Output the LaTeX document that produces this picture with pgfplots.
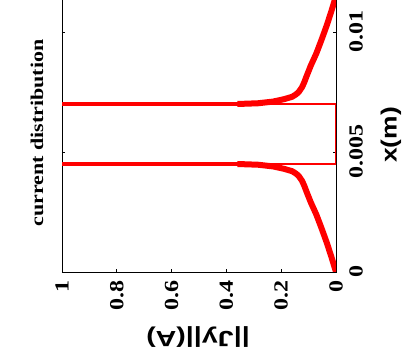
\documentclass[border=0pt]{standalone}
\usepackage{fontspec}
\setmainfont{Liberation Serif}
\newfontfamily\sansbold{Liberation Sans}
\usepackage{pgfplots}
\usepackage{pgfplotstable}
\pgfplotsset{compat=1.18}

% current density along the strip: conductor left of the gap
\pgfplotstableread{
x        J
0        0
0.0006   0.016
0.0012   0.033
0.0018   0.052
0.0024   0.072
0.0029   0.092
0.0033   0.106
0.0036   0.116
0.0038   0.124
0.0040   0.136
0.0041   0.146
0.0042   0.160
0.0043   0.190
0.0044   0.230
0.00447  0.285
0.0045   0.360
}\leftstrip

% conductor right of the gap
\pgfplotstableread{
x        J
0.0070   0.360
0.00703  0.285
0.0071   0.230
0.0072   0.190
0.0073   0.160
0.0074   0.146
0.0075   0.136
0.0077   0.124
0.0079   0.116
0.0082   0.106
0.0086   0.092
0.0091   0.072
0.0097   0.052
0.0103   0.033
0.0109   0.016
0.0115   0
}\rightstrip

\begin{document}
\begin{tikzpicture}
\begin{axis}[
  name=ax, at={(0,0)}, anchor=south west,
  scale only axis, width=274bp, height=276bp,
  x dir=reverse,
  xmin=0, xmax=1, ymin=0, ymax=0.0115,
  axis line style={line width=0.9pt},
  tick align=inside, major tick length=3bp,
  tick style={black, line width=0.6pt},
  xtick={0,0.2,0.4,0.6,0.8,1},
  xticklabels={0,0.2,0.4,0.6,0.8,1},
  ytick={0,0.005,0.01},
  yticklabels={0,0.005,0.01},
  scaled y ticks=false, scaled x ticks=false,
  xtick pos=both, ytick pos=both,
  yticklabel pos=right,
  xticklabel style={font=\fontsize{20bp}{24bp}\selectfont\bfseries,
    rotate=90, anchor=east, inner sep=0pt, xscale=1.2},
  xticklabel shift=8bp,
  yticklabel style={font=\fontsize{20bp}{24bp}\selectfont\bfseries,
    rotate=90, anchor=north, inner sep=0pt, xscale=1.2},
  yticklabel shift=13bp,
]
% zero current in the gap between the strips
\addplot[red, line width=1.6bp, line join=miter]
  coordinates {(1,0.0045) (0,0.0045) (0,0.0070) (1,0.0070)};
% edge peaks
\addplot[red, line width=4.2bp] coordinates {(0.30,0.0045) (1,0.0045)};
\addplot[red, line width=4.2bp] coordinates {(0.30,0.0070) (1,0.0070)};
% distribution over each strip
\addplot[red, line width=6bp, line join=round, line cap=butt]
  table[x=J, y=x] {\leftstrip};
\addplot[red, line width=6bp, line join=round, line cap=butt]
  table[x=J, y=x] {\rightstrip};
\end{axis}

% titles and axis labels
\node[rotate=90, xscale=1.22, inner sep=0pt,
      font=\fontsize{18bp}{22bp}\selectfont\bfseries]
  at ([shift={(-25bp,139bp)}]ax.south west) {current distribution};
\node[rotate=90, xscale=1.2, inner sep=0pt,
      font=\fontsize{22bp}{26bp}\sansbold\bfseries]
  at ([shift={(329bp,137bp)}]ax.south west) {x(m)};
\node[rotate=180, xscale=1.3, inner sep=0pt,
      font=\fontsize{22bp}{26bp}\sansbold\bfseries]
  at ([shift={(136bp,-65bp)}]ax.south west) {||Jy||(A)};

\pgfresetboundingbox
\path[use as bounding box] ([shift={(-62bp,-92bp)}]ax.south west)
  rectangle ([shift={(342bp,272bp)}]ax.south west);
\end{tikzpicture}
\end{document}
